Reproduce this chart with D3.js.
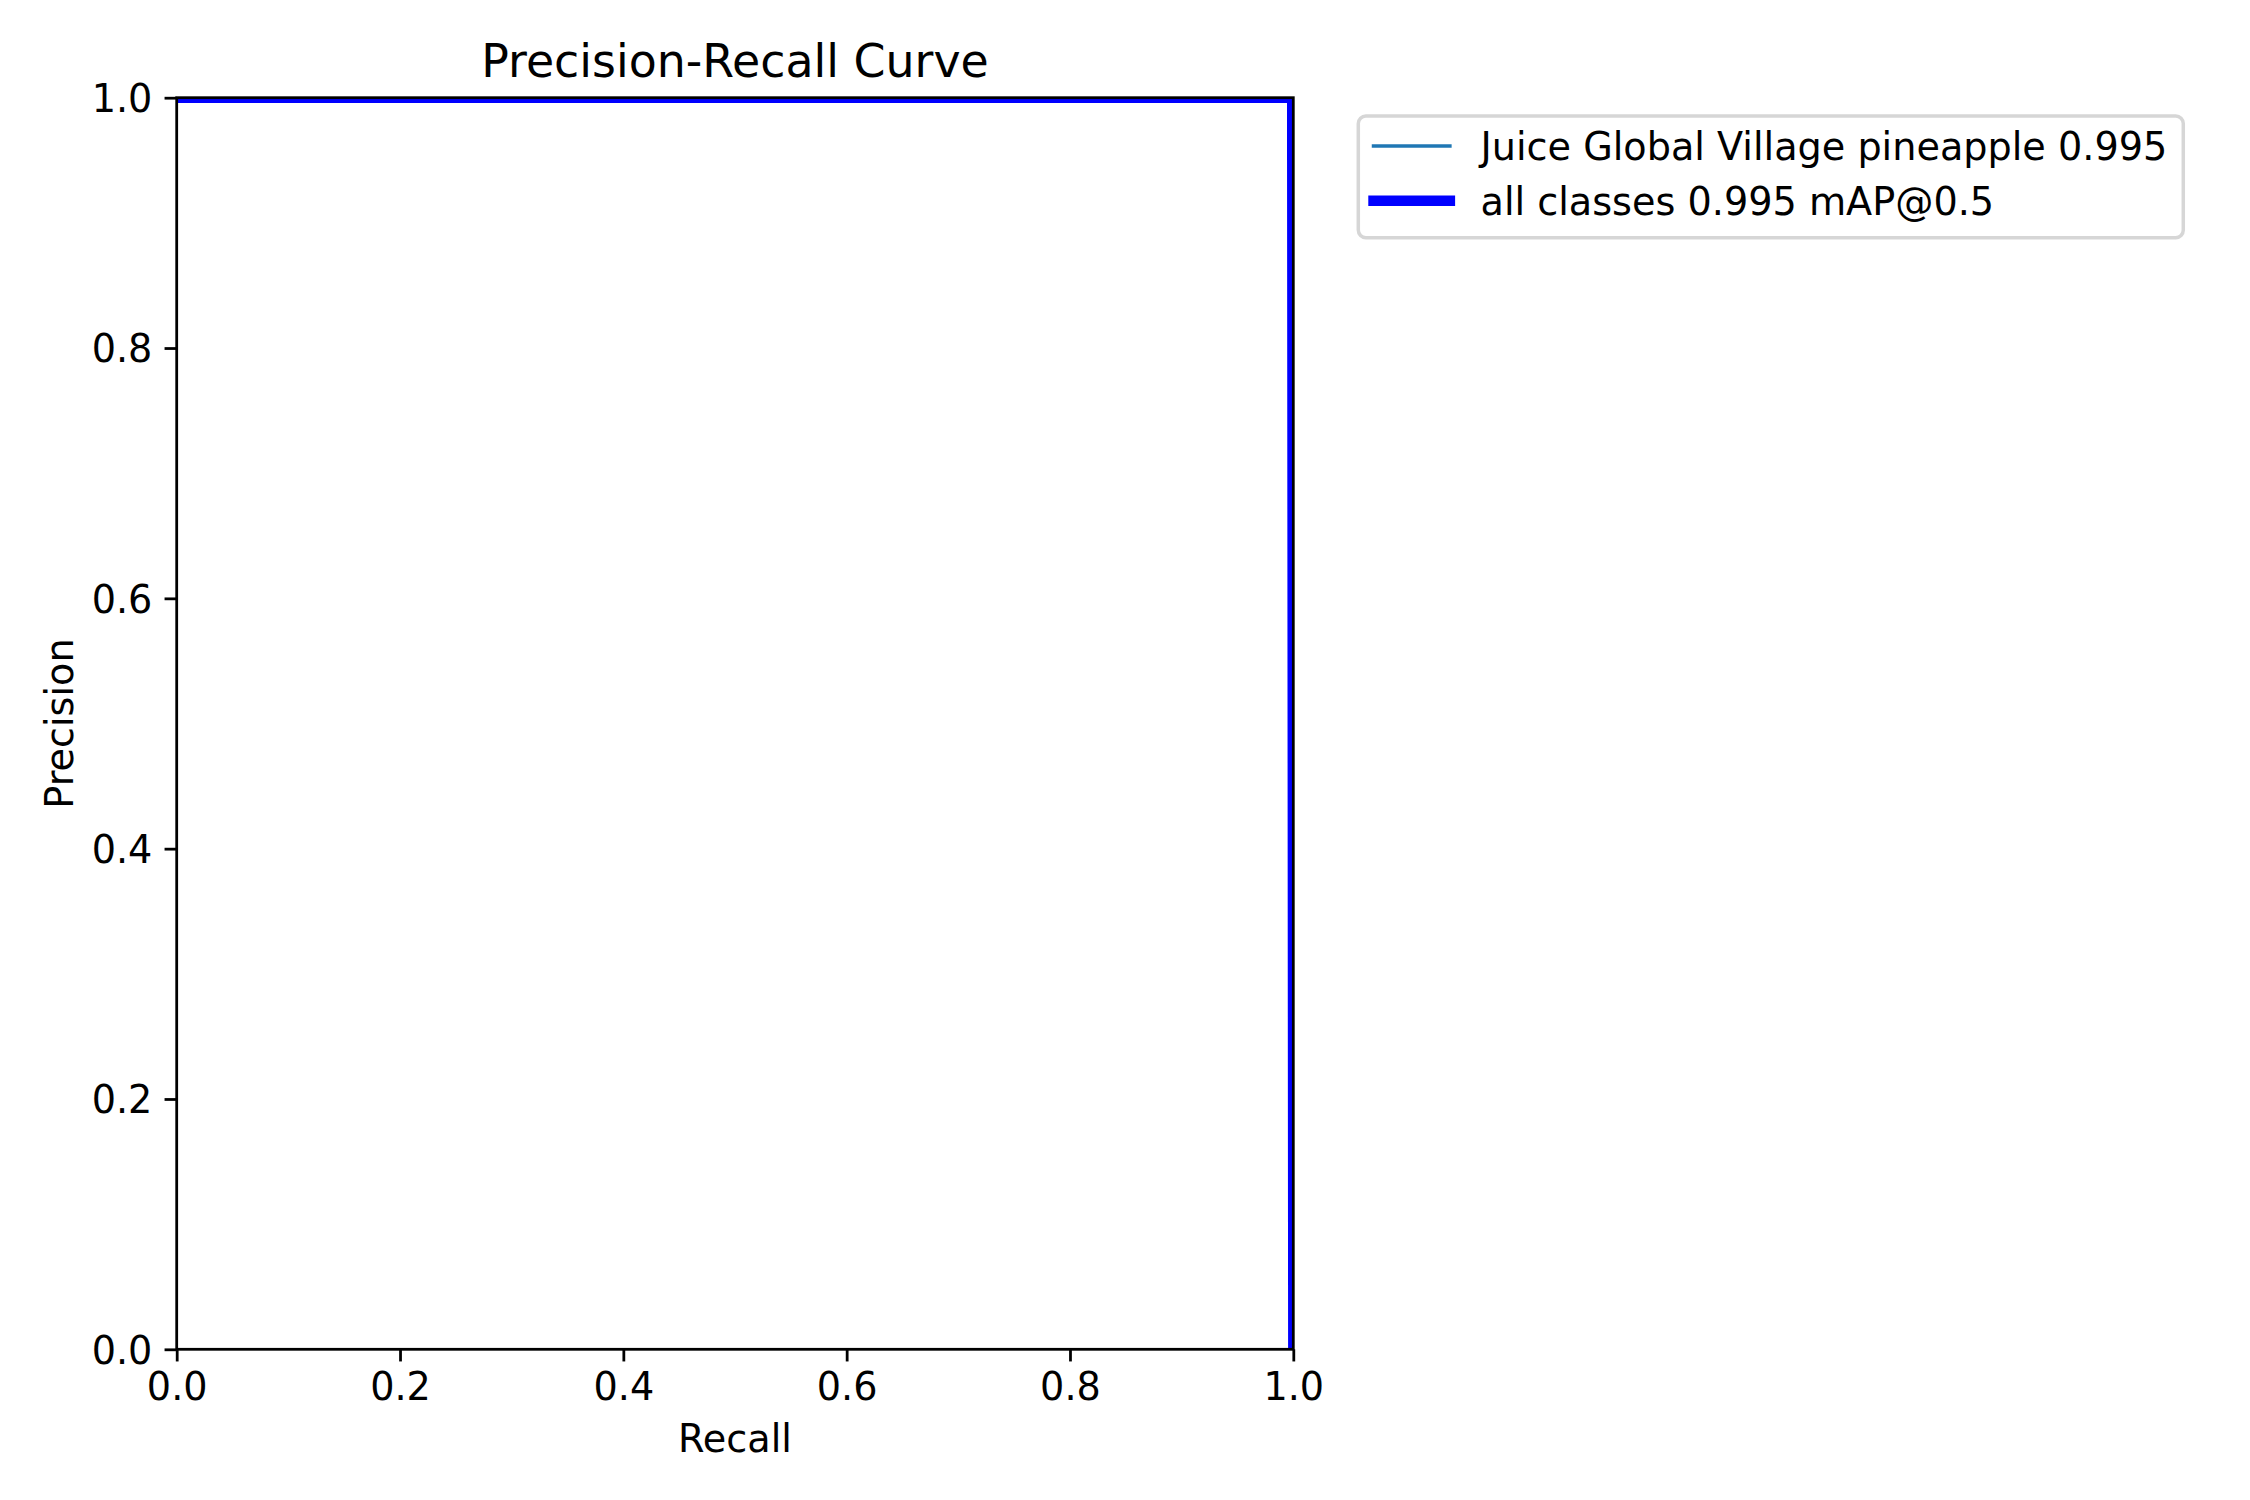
<!DOCTYPE html>
<html>
<head>
<meta charset="utf-8">
<script src="https://cdn.jsdelivr.net/npm/d3@7"></script>
<style>
  body { margin: 0; background: #fff; }
  svg text { font-family: "DejaVu Sans", sans-serif; fill: #000; }
</style>
</head>
<body>
<svg id="chart" width="2250" height="1500"></svg>
<script>
// PR curve values
var recall = [0.0, 0.999, 1.0];
var classPrecision = [1.0, 1.0, 0.0];
var allPrecision = [1.0, 1.0, 0.0];
var tickValues = [0.0, 0.2, 0.4, 0.6, 0.8, 1.0];
var seriesNames = ["Juice Global Village pineapple 0.995", "all classes 0.995 mAP@0.5"];
var seriesColors = ["#1f77b4", "#0000ff"];
var seriesWidths = [3.47, 10.42];

// axes box in pixels (window.top is read-only, so no plain "top")
var axLeft = 176.7, axRight = 1293.3, axTop = 97.7, axBottom = 1349.3;
var fs = 38.19; // 11pt at 250dpi

var svg = d3.select('#chart');

var x = d3.scaleLinear().domain([0, 1]).range([axLeft, axRight]);
var y = d3.scaleLinear().domain([0, 1]).range([axBottom, axTop]);

svg.append('defs').append('clipPath').attr('id', 'plotclip')
    .append('rect')
    .attr('x', axLeft).attr('y', axTop)
    .attr('width', axRight - axLeft).attr('height', axBottom - axTop);

var line = d3.line()
    .x(function(d) { return x(d[0]); })
    .y(function(d) { return y(d[1]); });

var series = [
    recall.map(function(r, i) { return [r, classPrecision[i]]; }),
    recall.map(function(r, i) { return [r, allPrecision[i]]; })
];

var plot = svg.append('g').attr('clip-path', 'url(#plotclip)');
series.forEach(function(s, i) {
    plot.append('path')
        .datum(s)
        .attr('d', line)
        .attr('fill', 'none')
        .attr('stroke', seriesColors[i])
        .attr('stroke-width', seriesWidths[i])
        .attr('stroke-linejoin', 'round')
        .attr('stroke-linecap', 'square');
});

// axes
var xAxis = d3.axisBottom(x).tickValues(tickValues).tickFormat(d3.format('.1f'))
    .tickSize(12.15).tickPadding(12.15);
var yAxis = d3.axisLeft(y).tickValues(tickValues).tickFormat(d3.format('.1f'))
    .tickSize(12.15).tickPadding(12.15);

var gx = svg.append('g').attr('transform', 'translate(0,' + axBottom + ')').call(xAxis);
var gy = svg.append('g').attr('transform', 'translate(' + axLeft + ',0)').call(yAxis);
[gx, gy].forEach(function(g) {
    g.select('.domain').remove();
    g.selectAll('.tick line').attr('stroke', '#000').attr('stroke-width', 2.78);
    g.selectAll('.tick text')
        .attr('font-size', fs)
        .attr('font-family', '"DejaVu Sans", sans-serif')
        .attr('fill', '#000');
});
gx.selectAll('.tick text').attr('dy', '0.7em');
gy.selectAll('.tick text').attr('dy', '0.36em');

// spines
svg.append('rect')
    .attr('x', axLeft).attr('y', axTop)
    .attr('width', axRight - axLeft).attr('height', axBottom - axTop)
    .attr('fill', 'none')
    .attr('stroke', '#000')
    .attr('stroke-width', 2.78);

// titles
svg.append('text')
    .attr('x', (axLeft + axRight) / 2).attr('y', 76.8)
    .attr('text-anchor', 'middle')
    .attr('font-size', 45.83)
    .text('Precision-Recall Curve');

svg.append('text')
    .attr('x', (axLeft + axRight) / 2).attr('y', 1451.5)
    .attr('text-anchor', 'middle')
    .attr('font-size', fs)
    .text('Recall');

svg.append('text')
    .attr('transform', 'translate(73,' + ((axTop + axBottom) / 2) + ') rotate(-90)')
    .attr('text-anchor', 'middle')
    .attr('font-size', fs)
    .text('Precision');

// legend
var lg = svg.append('g');
lg.append('rect')
    .attr('x', 1358.3).attr('y', 116)
    .attr('width', 2183.3 - 1358.3).attr('height', 237.7 - 116)
    .attr('rx', 7.6).attr('ry', 7.6)
    .attr('fill', '#fff').attr('fill-opacity', 0.8)
    .attr('stroke', '#cccccc').attr('stroke-opacity', 0.8)
    .attr('stroke-width', 3.47);

var rowY = [146, 200.7];
seriesNames.forEach(function(name, i) {
    lg.append('line')
        .attr('x1', 1373.5).attr('x2', 1449.9)
        .attr('y1', rowY[i]).attr('y2', rowY[i])
        .attr('stroke', seriesColors[i])
        .attr('stroke-width', seriesWidths[i])
        .attr('stroke-linecap', 'square');
    lg.append('text')
        .attr('x', 1480.5).attr('y', rowY[i] + 14.3)
        .attr('font-size', fs)
        .text(name);
});
</script>
</body>
</html>
